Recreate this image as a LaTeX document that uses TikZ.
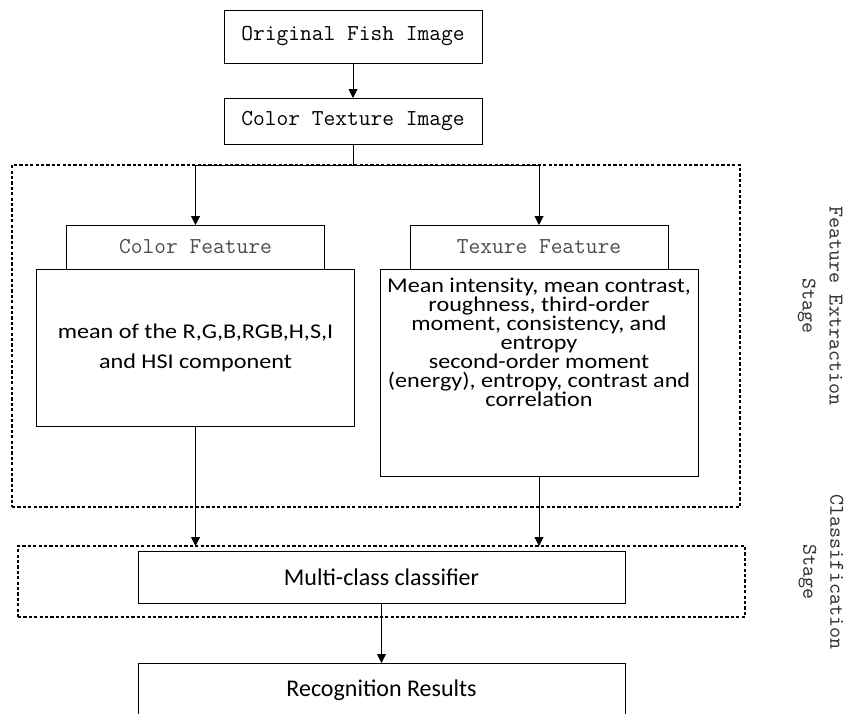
\documentclass[tikz,border=0pt]{standalone}
\usepackage{fontspec}
\setmainfont{Carlito}
\newfontfamily\widecal[FakeStretch=1.15]{Carlito}
\usetikzlibrary{positioning,arrows.meta}

\begin{document}
\begin{tikzpicture}[x=0.5pt,y=-0.5pt,
      box/.style={draw, rectangle, line width=0.5pt, align=center, inner sep=0pt, outer sep=0pt},
      mono/.style={font=\fontsize{11.4}{13.7}\selectfont\ttfamily},
      tab/.style={box, mono, text=black!70, minimum width=129pt, minimum height=22pt},
      calib/.style={font=\fontsize{12}{15}\selectfont},
      wide/.style={font=\widecal\fontsize{10.5}{15}\selectfont},
      frame/.style={draw, dash pattern=on 1.6pt off 1.1pt, line width=0.8pt, inner sep=0pt, outer sep=0pt},
      clear/.style={draw=none, fill=none, align=center, text=black!80,
         font=\fontsize{10.5}{13.5}\selectfont\ttfamily},
      every edge/.style={draw, -{Triangle[length=4.5pt,width=4.5pt]}, line width=0.5pt}
   ]
      \useasboundingbox (0,0) rectangle (849,713);

      % stage frames
      \node[frame, minimum width=364pt, minimum height=171pt] (FX) at (376,336) {};
      \node[frame, minimum width=363.5pt, minimum height=35.5pt] (CX) at (381.5,581.5) {};

      \node[box, mono, minimum width=129pt, minimum height=26.5pt] (OI) at (353,36.5) {Original Fish Image};
      \node[box, mono, minimum width=129pt, minimum height=23pt] (CT) at (353,121) {Color Texture Image};

      \node[tab] (CF) at (195.5,247) {Color Feature};
      \node[box, wide, below=0pt of CF, minimum width=159pt, minimum height=78.5pt] (CB)
         {mean of the R,G,B,RGB,H,S,I\\and HSI component};

      \node[tab] (TF) at (539,247) {Texure Feature};
      \node[box, below=0pt of TF] (TB) {\parbox[c][103.5pt][t]{159pt}{\centering
         \widecal\fontsize{10.5}{9.5}\selectfont\lineskiplimit=-20pt
         \rule{0pt}{11.5pt}Mean intensity, mean contrast,\\
         roughness, third-order\\
         moment, consistency, and\\
         entropy\\
         second-order moment\\
         (energy), entropy, contrast and\\
         correlation}};

      \node[box, calib, minimum width=243.5pt, minimum height=26pt] (MC) at (381.5,577) {Multi-class classifier};
      \node[box, calib, minimum width=243.5pt, minimum height=27.5pt] (RR) at (381.5,690.5) {Recognition Results};

      \node[clear, rotate=-90] (FXlabel) at (820,306) {Feature Extraction\\Stage};
      \node[clear, rotate=-90] (CXlabel) at (821,572) {Classification\\Stage};

      \path (OI) edge (CT);
      \coordinate (split) at (CT.south |- FX.north);
      \draw[line width=0.5pt] (CT.south) -- (split);
      \draw[-{Triangle[length=4.5pt,width=4.5pt]}, line width=0.5pt] (split) -| (CF.north);
      \draw[-{Triangle[length=4.5pt,width=4.5pt]}, line width=0.5pt] (split) -| (TF.north);
      \path (CB.south) edge (CB.south |- CX.north);
      \path (TB.south) edge (TB.south |- CX.north);
      \path (MC) edge (RR);
   \end{tikzpicture}
\end{document}
